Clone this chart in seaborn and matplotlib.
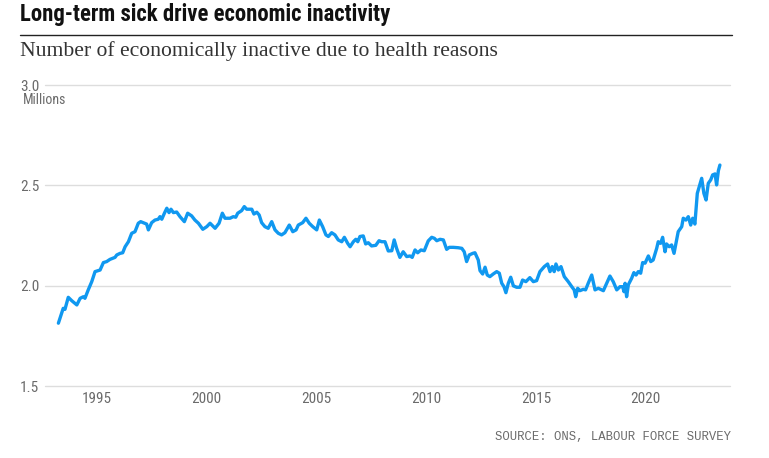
import matplotlib
matplotlib.use("Agg")
import matplotlib.pyplot as plt
from matplotlib import font_manager
import seaborn as sns
import pandas as pd

# ---------------- data ----------------
years = [
    1993.24, 1993.46, 1993.54, 1993.69, 1993.85, 1994.08, 1994.23, 1994.38, 1994.45, 1994.60,
    1994.76, 1994.91, 1995.14, 1995.29, 1995.44, 1995.59, 1995.82, 1995.90, 1996.05, 1996.17,
    1996.28, 1996.43, 1996.58, 1996.73, 1996.88, 1996.99, 1997.26, 1997.34, 1997.49, 1997.64,
    1997.79, 1997.87, 1997.95, 1998.07, 1998.18, 1998.28, 1998.37, 1998.48, 1998.63, 1998.78,
    1998.98, 1999.13, 1999.31, 1999.46, 1999.62, 1999.82, 2000.00, 2000.15, 2000.38, 2000.56,
    2000.71, 2000.83, 2001.06, 2001.21, 2001.32, 2001.41, 2001.59, 2001.71, 2001.82, 2002.05,
    2002.15, 2002.28, 2002.39, 2002.50, 2002.65, 2002.80, 2002.96, 2003.11, 2003.26, 2003.41,
    2003.56, 2003.76, 2003.92, 2004.07, 2004.17, 2004.37, 2004.52, 2004.67, 2004.83, 2005.01,
    2005.13, 2005.28, 2005.43, 2005.54, 2005.69, 2005.84, 2005.99, 2006.15, 2006.27, 2006.42,
    2006.53, 2006.68, 2006.79, 2006.88, 2006.98, 2007.13, 2007.24, 2007.36, 2007.51, 2007.70,
    2007.85, 2007.97, 2008.12, 2008.27, 2008.43, 2008.54, 2008.65, 2008.80, 2008.95, 2009.11,
    2009.26, 2009.36, 2009.49, 2009.61, 2009.76, 2009.91, 2010.09, 2010.25, 2010.37, 2010.48,
    2010.63, 2010.78, 2010.93, 2011.05, 2011.23, 2011.46, 2011.62, 2011.73, 2011.84, 2011.96,
    2012.12, 2012.22, 2012.37, 2012.45, 2012.57, 2012.68, 2012.78, 2012.90, 2013.05, 2013.21,
    2013.33, 2013.44, 2013.54, 2013.63, 2013.74, 2013.85, 2013.97, 2014.12, 2014.27, 2014.39,
    2014.54, 2014.72, 2014.88, 2015.03, 2015.18, 2015.38, 2015.53, 2015.64, 2015.74, 2015.83,
    2015.91, 2016.02, 2016.14, 2016.29, 2016.47, 2016.63, 2016.74, 2016.81, 2016.90, 2017.00,
    2017.16, 2017.26, 2017.38, 2017.54, 2017.69, 2017.84, 2018.07, 2018.22, 2018.37, 2018.52,
    2018.68, 2018.83, 2018.95, 2019.01, 2019.06, 2019.13, 2019.21, 2019.36, 2019.46, 2019.56,
    2019.66, 2019.77, 2019.86, 2019.97, 2020.12, 2020.23, 2020.34, 2020.50, 2020.57, 2020.68,
    2020.77, 2020.88, 2020.95, 2021.07, 2021.18, 2021.29, 2021.38, 2021.48, 2021.64, 2021.71,
    2021.83, 2021.94, 2022.05, 2022.14, 2022.24, 2022.35, 2022.44, 2022.55, 2022.65, 2022.75,
    2022.85, 2022.96, 2023.05, 2023.16, 2023.23, 2023.31, 2023.38,
]
inactive_millions = [
    1.813, 1.887, 1.882, 1.942, 1.925, 1.904, 1.937, 1.945, 1.937, 1.979,
    2.020, 2.070, 2.078, 2.115, 2.120, 2.131, 2.141, 2.153, 2.161, 2.164,
    2.194, 2.219, 2.261, 2.269, 2.311, 2.319, 2.307, 2.278, 2.314, 2.327,
    2.331, 2.344, 2.331, 2.361, 2.386, 2.364, 2.381, 2.364, 2.367, 2.344,
    2.319, 2.361, 2.348, 2.327, 2.311, 2.281, 2.294, 2.311, 2.286, 2.311,
    2.361, 2.336, 2.336, 2.344, 2.341, 2.361, 2.374, 2.394, 2.381, 2.381,
    2.357, 2.366, 2.352, 2.314, 2.294, 2.286, 2.319, 2.278, 2.261, 2.253,
    2.264, 2.302, 2.269, 2.278, 2.302, 2.314, 2.336, 2.311, 2.294, 2.278,
    2.327, 2.294, 2.253, 2.245, 2.264, 2.253, 2.228, 2.219, 2.241, 2.211,
    2.194, 2.219, 2.231, 2.219, 2.245, 2.248, 2.208, 2.214, 2.198, 2.201,
    2.224, 2.219, 2.219, 2.173, 2.174, 2.228, 2.186, 2.141, 2.169, 2.145,
    2.148, 2.141, 2.178, 2.164, 2.178, 2.174, 2.223, 2.241, 2.236, 2.224,
    2.231, 2.228, 2.181, 2.191, 2.191, 2.189, 2.186, 2.169, 2.120, 2.153,
    2.161, 2.164, 2.128, 2.075, 2.058, 2.092, 2.053, 2.045, 2.058, 2.070,
    2.062, 2.012, 1.995, 1.965, 2.012, 2.042, 1.999, 1.992, 1.992, 2.028,
    2.020, 2.040, 2.020, 2.025, 2.070, 2.095, 2.108, 2.070, 2.095, 2.070,
    2.108, 2.078, 2.095, 2.045, 2.020, 1.995, 1.979, 1.945, 1.987, 1.975,
    1.982, 1.979, 2.012, 2.053, 1.979, 1.987, 1.975, 2.012, 2.048, 2.020,
    1.979, 1.995, 1.995, 1.970, 2.012, 1.945, 2.005, 2.037, 2.065, 2.053,
    2.070, 2.062, 2.115, 2.112, 2.148, 2.120, 2.128, 2.186, 2.219, 2.211,
    2.241, 2.169, 2.208, 2.194, 2.203, 2.161, 2.211, 2.269, 2.294, 2.336,
    2.327, 2.344, 2.302, 2.336, 2.307, 2.460, 2.493, 2.535, 2.460, 2.427,
    2.510, 2.527, 2.552, 2.557, 2.502, 2.573, 2.601,
]
x_ticks = [1995, 2000, 2005, 2010, 2015, 2020]
y_ticks = [1.5, 2.0, 2.5, 3.0]
y_tick_labels = ["1.5", "2.0", "2.5", "3.0"]

title = "Long-term sick drive economic inactivity"
subtitle = "Number of economically inactive due to health reasons"
unit_label = "Millions"
source = "SOURCE: ONS, LABOUR FORCE SURVEY"

# ---------------- styling ----------------
sns.set_theme(style="white")
available = {f.name for f in font_manager.fontManager.ttflist}

def pick(*names):
    for n in names:
        if n in available:
            return n
    return "DejaVu Sans"

narrow = pick("Roboto Condensed", "Liberation Sans Narrow", "Roboto", "Liberation Sans")
serif = pick("Liberation Serif", "DejaVu Serif")
mono = pick("Liberation Mono", "DejaVu Sans Mono")
plt.rcParams["font.family"] = [narrow, "DejaVu Sans"]

W, H = 769, 458
fig = plt.figure(figsize=(W / 100, H / 100), dpi=100)
fig.patch.set_facecolor("white")

def fx(px):
    return px / W

def fy(py):
    return 1 - py / H

ax = fig.add_axes([fx(45), fy(386), fx(730) - fx(45), fy(85) - fy(386)])

df = pd.DataFrame({"year": years, "value": inactive_millions})
sns.lineplot(data=df, x="year", y="value", ax=ax, color="#1098f0",
             linewidth=2.4, estimator=None, sort=False)

ax.set_xlim(1992.63, 2023.84)
ax.set_ylim(1.5, 3.0)
ax.set_xticks(x_ticks)
ax.set_xticklabels([str(t) for t in x_ticks])
ax.set_yticks(y_ticks)
ax.set_yticklabels(y_tick_labels)
ax.set_xlabel("")
ax.set_ylabel("")
for s in ax.spines.values():
    s.set_visible(False)
ax.grid(False)
for yv in y_ticks:
    ax.axhline(yv, color="#dddddd", linewidth=1.0, zorder=0, clip_on=False)

ax.tick_params(axis="both", length=0, labelcolor="#6b6b6b", labelsize=11)
ax.tick_params(axis="y", pad=4)
ax.tick_params(axis="x", pad=4)
for lab in ax.get_xticklabels() + ax.get_yticklabels():
    lab.set_fontfamily([narrow, "DejaVu Sans"])

# header
fig.text(fx(20), fy(14), title, fontsize=16.4, fontweight="bold", color="#111111",
         ha="left", va="center", family=[narrow, "DejaVu Sans"])
fig.add_artist(plt.Line2D([fx(20), fx(732)], [fy(35), fy(35)], color="#222222",
                          linewidth=1.0))
fig.text(fx(20), fy(51), subtitle, fontsize=15.6, color="#333333",
         ha="left", va="center", family=[serif, "DejaVu Serif"])
fig.text(fx(23), fy(100), unit_label, fontsize=10, color="#6b6b6b",
         ha="left", va="center", family=[narrow, "DejaVu Sans"])
fig.text(fx(731), fy(437), source, fontsize=8.8, color="#6b6b6b",
         ha="right", va="center", family=[mono, "DejaVu Sans Mono"])

fig.savefig("out.png", dpi=100, facecolor="white")
